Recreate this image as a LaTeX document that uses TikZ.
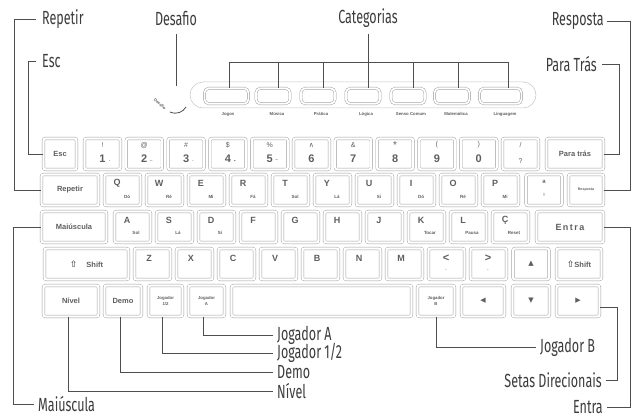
\documentclass[tikz,border=0pt]{standalone}
\usepackage{fontspec}
\setmainfont{Liberation Sans}
\newfontfamily\callfont[FakeStretch=0.66]{Fira Sans}
\newfontfamily\symfont{DejaVu Sans}
\usetikzlibrary{calc}
\definecolor{keyline}{HTML}{9C9C9C}
\definecolor{keytext}{HTML}{5E5E5E}
\definecolor{callline}{HTML}{4E4E4E}
\definecolor{calltext}{HTML}{3C3C3C}
\begin{document}
\begin{tikzpicture}[x=1pt,y=-1pt,
  key/.style={draw=keyline, line width=0.45pt, double=white, double distance=2.2pt,
    rounded corners=2pt, minimum height=31pt, minimum width=#1, inner sep=0pt,
    text=keytext, font=\bfseries\fontsize{7.5}{8}\selectfont},
  key/.default=36pt,
  kl/.style={text=keytext, font=\bfseries\fontsize{9}{10}\selectfont, inner sep=0pt},
  kd/.style={text=keytext, font=\bfseries\fontsize{11}{12}\selectfont, inner sep=0pt},
  ks/.style={text=keytext, font=\bfseries\fontsize{4.5}{5}\selectfont, inner sep=0pt},
  ksym/.style={text=keytext, font=\fontsize{7}{8}\selectfont, inner sep=0pt},
  tiny/.style={font=\bfseries\fontsize{4.3}{5}\selectfont, align=center},
  lab/.style={text=calltext, font=\callfont\fontsize{19}{22}\selectfont, inner sep=0pt},
  call/.style={draw=callline, line width=0.9pt},
  catbtn/.style={draw=keyline, line width=0.45pt, double=white, double distance=1.8pt,
    rounded corners=4.5pt, minimum height=15.5pt, minimum width=#1, inner sep=0pt},
  catlab/.style={text=keytext, font=\bfseries\fontsize{4.3}{5}\selectfont, inner sep=0pt}]
\useasboundingbox (0,0) rectangle (633,417);

% ---------- category panel ----------
\node[draw=keyline!60, line width=0.5pt, rounded corners=13pt, minimum width=346pt,
      minimum height=26pt, inner sep=0pt] (panel) at (363,95) {};
\node[catbtn=44pt] (bjog) at (226.5,96) {};
\node[catbtn=34pt] (bmus) at (273,96) {};
\node[catbtn=34pt] (bpra) at (318,96) {};
\node[catbtn=34pt] (blog) at (363,96) {};
\node[catbtn=34pt] (bsen) at (408,96) {};
\node[catbtn=35pt] (bmat) at (452,96) {};
\node[catbtn=42pt] (blin) at (500.5,96) {};
\node[catlab] (cj) at (228,114) {Jogos};
\node[catlab] (cm) at (277,114) {Música};
\node[catlab] (cp) at (321,114) {Prática};
\node[catlab] (cl) at (366,114) {Lógica};
\node[catlab] (cs) at (411,114) {Senso Comum};
\node[catlab] (cmt) at (456,114) {Matemática};
\node[catlab] (cli) at (505,114) {Linguagem};

% Desafio button
\node[rotate=-40, text=keytext, font=\bfseries\fontsize{4}{4}\selectfont, inner sep=0pt] (des) at (160,104) {Desafio};
\draw[callline, line width=0.8pt] (170,112) .. controls (177,115) and (183,112) .. (186,107);
\coordinate (desbtn) at (176,86);

% ---------- row 1 ----------
\node[key=33pt] (kesc) at (60,154) {Esc};
\foreach \t/\d/\s [count=\i from 0] in {!/1/., @/2/.., \#/3/., \$/4/{\textbullet}, \%/5/--,
    {\symfont ∧}/6/{}, \&/7/{}, {\fontsize{10}{10}\selectfont *}/8/{}, {(}/9/{}, {)}/0/{}}{
  \pgfmathsetmacro\cx{102.5+41.8*\i}
  \node[key] (k1-\i) at (\cx,154) {};
  \node[ksym] (t1-\i) at (\cx,145) {\t};
  \node[kd] (d1-\i) at (\cx,159) {\d};
  \node[ks] (s1-\i) at (\cx+7,161) {\s};
}
\node[key] (kslash) at (520.5,154) {};
\node[ksym] (tslash) at (520.5,145) {/};
\node[ksym] (dslash) at (520.5,161) {?};
\node[key=57pt] (kpar) at (575,154) {Para trás};

% ---------- row 2 ----------
\node[key=57pt] (krep) at (70,190) {Repetir};
\foreach \l/\s [count=\i from 0] in {Q/Dó, W/Ré, E/Mi, R/Fá, T/Sol, Y/Lá, U/Si, I/Dó, O/Ré, P/Mi}{
  \pgfmathsetmacro\lx{103+42*\i}
  \node[key] (k2-\i) at (\lx+19.5,190) {};
  \node[kl] (l2-\i) at (\lx+14,183) {\l};
  \node[ks] (s2-\i) at (\lx+24,197) {\s};
}
\node[key] (kord) at (544,190) {};
\node[kl] (lord) at (544,183) {ª};
\node[ks] (sord) at (544,195) {!};
\node[key=35pt, font=\bfseries\fontsize{3.6}{4}\selectfont] (kres) at (586,190) {Resposta};

% ---------- row 3 ----------
\node[key=65pt] (kmai) at (74,227) {Maiúscula};
\foreach \l/\s [count=\i from 0] in {A/Sol, S/Lá, D/Si, F/{}, G/{}, H/{}, J/{}, K/Tocar, L/Pausa, Ç/Reset}{
  \pgfmathsetmacro\lx{113+42*\i}
  \node[key] (k3-\i) at (\lx+19.5,227) {};
  \node[kl] (l3-\i) at (\lx+14,220) {\l};
  \node[ks] (s3-\i) at (\lx+23,233) {\s};
}
\node[key=67pt, font=\bfseries\fontsize{9}{10}\selectfont] (kent) at (570,227) {E\,n\,t\,r\,a};

% ---------- row 4 ----------
\node[key=84pt] (kshl) at (86.5,264) {{\symfont\fontsize{9}{9}\selectfont ⇧}\hspace{9pt}Shift};
\foreach \l [count=\i from 0] in {Z, X, C, V, B, N, M}{
  \pgfmathsetmacro\lx{133+42*\i}
  \node[key] (k4-\i) at (\lx+19.5,264) {};
  \node[kl] (l4-\i) at (\lx+16,258) {\l};
}
\node[key] (kless) at (446.5,264) {};
\node[kd] (lless) at (446,258) {<};
\node[ks] (sless) at (446,270) {.};
\node[key] (kgtr) at (488.5,264) {};
\node[kd] (lgtr) at (488,258) {>};
\node[ks] (sgtr) at (488,270) {.};
\node[key, font=\symfont\fontsize{7}{8}\selectfont] (kup) at (531,264) {▲};
\node[key=45pt] (kshr) at (579,264) {{\symfont\fontsize{9}{9}\selectfont ⇧}Shift};

% ---------- row 5 ----------
\node[key=55pt] (kniv) at (71,301) {Nível};
\node[key=37pt] (kdem) at (123,301) {Demo};
\node[key=34pt, tiny] (kj12) at (165.5,301) {Jogador\\[1pt]1/2};
\node[key=36pt, tiny] (kja) at (206.5,301) {Jogador\\[1pt]A};
\node[key=180pt] (kspc) at (321.5,301) {};
\node[key=37pt, tiny] (kjb) at (436,301) {Jogador\\[1pt]B};
\node[key=43pt, font=\symfont\fontsize{7}{8}\selectfont] (kleft) at (483,301) {◀};
\node[key=37pt, font=\symfont\fontsize{7}{8}\selectfont] (kdown) at (531,301) {▼};
\node[key=43pt, font=\symfont\fontsize{7}{8}\selectfont] (kright) at (578,301) {▶};

% ---------- callouts: top ----------
\node[lab, anchor=west] (lrep) at (42,19) {Repetir};
\draw[call] ([xshift=-6pt]lrep.west) -| ([xshift=-27pt]krep.west) -- (krep.west);

\node[lab, anchor=west] (lesc) at (42,61) {Esc};
\draw[call] ([xshift=-6pt]lesc.west) -| ([xshift=-15pt]kesc.west) -- (kesc.west);

\node[lab] (ldes) at (176,18) {Desafio};
\draw[call] ([yshift=-9pt]ldes.south) -- (desbtn);

\node[lab] (lcat) at (368,18) {Categorias};
\coordinate (catj) at (368,62);
\draw[call] ([yshift=-6pt]lcat.south) -- (catj);
\draw[call] ([xshift=2.5pt]bjog.north) |- ([xshift=7.5pt]blin.north |- catj) -- ([xshift=7.5pt]blin.north);
\foreach \b/\s in {bmus/5.5, bpra/5, blog/5, bsen/5, bmat/6}
  \draw[call] ([xshift=\s pt]\b.north) -- ([xshift=\s pt]\b.north |- catj);

\node[lab, anchor=east] (lres) at (604,21) {Resposta};
\draw[call] ([xshift=3pt]lres.east) -| ([xshift=26.5pt]kres.east) -- (kres.east);

\node[lab, anchor=east] (lpar) at (597,64) {Para Trás};
\draw[call] ([xshift=5pt]lpar.east) -| ([xshift=16pt]kpar.east) -- (kpar.east);

% ---------- callouts: right ----------
\node[lab, anchor=west] (ljb) at (540,347) {Jogador B};
\draw[call] (kjb.south) |- ([xshift=-4pt]ljb.west);

\node[lab, anchor=east] (lset) at (602,380) {Setas Direcionais};
\draw[call] ([xshift=4pt]lset.east) -| ([xshift=18pt,yshift=-6pt]kright.east) -- ([yshift=-6pt]kright.east);

\node[lab, anchor=east] (lent) at (603,407) {Entra};
\draw[call] ([xshift=4pt]lent.east) -| ([xshift=26.5pt]kent.east) -- (kent.east);

% ---------- callouts: bottom ----------
\node[lab, anchor=west] (lja) at (277,335) {Jogador A};
\draw[call] ([xshift=-3pt]kja.south) |- ([xshift=-4pt]lja.west);
\node[lab, anchor=west] (lj12) at (277,353) {Jogador 1/2};
\draw[call] ([xshift=-3pt]kj12.south) |- ([xshift=-4pt]lj12.west);
\node[lab, anchor=west] (ldem) at (277,372) {Demo};
\draw[call] ([xshift=-3pt]kdem.south) |- ([xshift=-4pt]ldem.west);
\node[lab, anchor=west] (lniv) at (277,391) {Nível};
\draw[call] ([xshift=-3pt]kniv.south) |- ([xshift=-4pt]lniv.west);

\node[lab, anchor=west] (lmai) at (38,404) {Maiúscula};
\draw[call] ([xshift=-4pt]lmai.west) -| ([xshift=-28pt]kmai.west) -- (kmai.west);
\end{tikzpicture}
\end{document}
